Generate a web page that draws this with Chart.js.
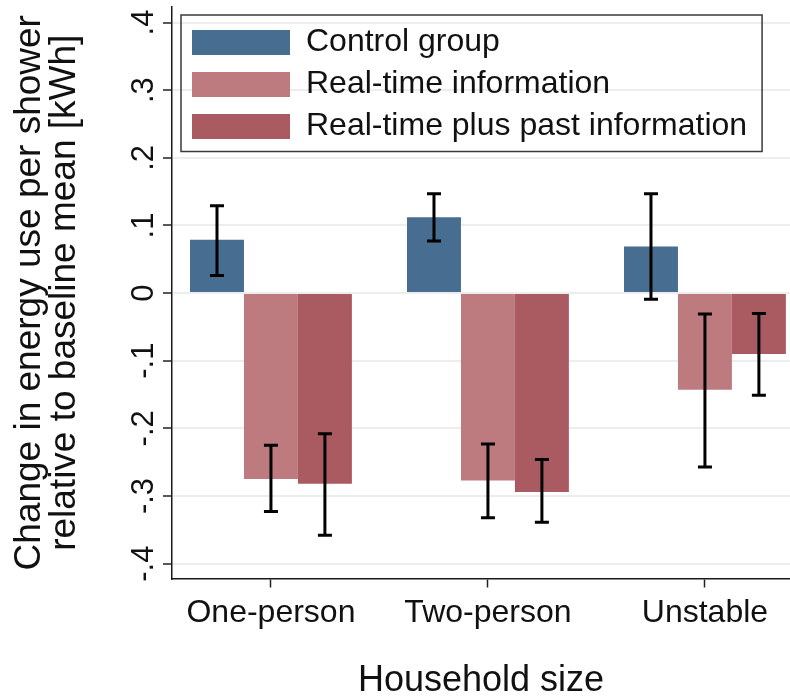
<!DOCTYPE html>
<html>
<head>
<meta charset="utf-8">
<script src="https://cdn.jsdelivr.net/npm/chart.js@4.4.1/dist/chart.umd.min.js"></script>
<style>
  html, body { margin: 0; padding: 0; background: #ffffff; }
  #wrap { width: 790px; height: 700px; }
</style>
</head>
<body>
<div id="wrap"><canvas id="c" width="790" height="700"></canvas></div>
<script>
// ---- data ----
const categories = ['One-person', 'Two-person', 'Unstable'];
const seriesNames = ['Control group', 'Real-time information', 'Real-time plus past information'];

const controlGroup   = [0.079, 0.112, 0.069];
const realTime       = [-0.275, -0.277, -0.143];
const realTimePast   = [-0.282, -0.294, -0.090];

const controlLow     = [0.026, 0.077, -0.009];
const controlHigh    = [0.129, 0.147, 0.147];
const realTimeLow    = [-0.323, -0.332, -0.257];
const realTimeHigh   = [-0.225, -0.223, -0.031];
const realTimePastLow  = [-0.358, -0.339, -0.151];
const realTimePastHigh = [-0.208, -0.246, -0.030];

const yTickValues = [-0.4, -0.3, -0.2, -0.1, 0, 0.1, 0.2, 0.3, 0.4];
const yTickLabels = ['-.4', '-.3', '-.2', '-.1', '0', '.1', '.2', '.3', '.4'];

// ---- styles ----
const FONT = "'Liberation Sans', Arial, sans-serif";
const colors = ['#476d91', '#bd7b80', '#aa5b62'];
const seriesValues = [controlGroup, realTime, realTimePast];
const seriesLow = [controlLow, realTimeLow, realTimePastLow];
const seriesHigh = [controlHigh, realTimeHigh, realTimePastHigh];

const datasets = seriesNames.map((name, s) => ({
  label: name,
  data: seriesValues[s].map((v, i) => ({ x: i + 1, y: v })),
  backgroundColor: colors[s],
  borderWidth: 0,
  categoryPercentage: 0.746,
  barPercentage: 1.0
}));

const errorBars = {
  id: 'errorBars',
  afterDatasetsDraw(chart) {
    const ctx = chart.ctx;
    const yScale = chart.scales.y;
    ctx.save();
    ctx.strokeStyle = '#000000';
    ctx.lineWidth = 3;
    ctx.lineCap = 'butt';
    chart.data.datasets.forEach((ds, s) => {
      const meta = chart.getDatasetMeta(s);
      meta.data.forEach((bar, j) => {
        const x = bar.x;
        const yl = yScale.getPixelForValue(seriesLow[s][j]);
        const yh = yScale.getPixelForValue(seriesHigh[s][j]);
        const cap = 7;
        ctx.beginPath();
        ctx.moveTo(x, yl); ctx.lineTo(x, yh);
        ctx.moveTo(x - cap, yl); ctx.lineTo(x + cap, yl);
        ctx.moveTo(x - cap, yh); ctx.lineTo(x + cap, yh);
        ctx.stroke();
      });
    });
    ctx.restore();
  }
};

const legendPlace = {
  id: 'legendPlace',
  afterLayout(chart) {
    const lg = chart.legend;
    const ca = chart.chartArea;
    if (!lg) return;
    const w = lg.width;
    lg.left = ca.left + 10;
    lg.top = ca.top + 9.5;
    lg.right = lg.left + w;
    lg.bottom = ca.bottom;
  },
  afterDraw(chart) {
    const lg = chart.legend;
    if (!lg || !lg.legendItems) return;
    const ctx = chart.ctx;
    const lo = chart.options.plugins.legend.labels;
    const fs = lo.font.size;
    ctx.save();
    ctx.font = fs + 'px ' + FONT;
    let maxW = 0;
    lg.legendItems.forEach(it => { maxW = Math.max(maxW, ctx.measureText(it.text).width); });
    const n = lg.legendItems.length;
    const x0 = lg.left - 1;
    const y0 = lg.top - 1.5;
    const x1 = lg.left + lo.padding + lo.boxWidth + fs / 2 + maxW + 15;
    const y1 = lg.top + lo.padding + n * (fs + lo.padding) - lo.padding + 9;
    ctx.strokeStyle = '#3a3a3a';
    ctx.lineWidth = 1.5;
    ctx.strokeRect(x0, y0, x1 - x0, y1 - y0);
    ctx.restore();
  }
};

new Chart(document.getElementById('c'), {
  type: 'bar',
  data: { datasets },
  options: {
    responsive: false,
    animation: false,
    devicePixelRatio: 1,
    layout: { padding: { top: 7, right: 0, bottom: 0, left: 0 } },
    plugins: {
      legend: {
        display: true,
        position: 'chartArea',
        align: 'start',
        labels: {
          boxWidth: 98,
          boxHeight: 25,
          padding: 10,
          color: '#111111',
          font: { family: FONT, size: 32 }
        }
      },
      tooltip: { enabled: false }
    },
    scales: {
      x: {
        type: 'linear',
        min: 0.544,
        max: 3.392,
        offset: false,
        afterBuildTicks(axis) {
          axis.ticks = categories.map((c, i) => ({ value: i + 1 }));
        },
        afterFit(scale) { scale.height = 121.5; scale.paddingLeft = 0; scale.paddingRight = 0; },
        grid: {
          offset: false,
          drawOnChartArea: false,
          drawTicks: true,
          tickLength: 9,
          tickColor: '#222222',
          tickWidth: 1.5
        },
        border: { display: true, color: '#1a1a1a', width: 1.5 },
        ticks: {
          padding: 6,
          color: '#111111',
          font: { family: FONT, size: 32 },
          maxRotation: 0,
          minRotation: 0,
          autoSkip: false,
          callback: (v) => categories[Math.round(v) - 1] || ''
        },
        title: {
          display: true,
          text: 'Household size',
          color: '#111111',
          font: { family: FONT, size: 36, lineHeight: 1.05 },
          padding: { top: 0, bottom: 0 }
        }
      },
      y: {
        min: -0.422,
        max: 0.423,
        afterBuildTicks(axis) {
          axis.ticks = yTickValues.map(v => ({ value: v }));
        },
        afterFit(scale) { scale.width = 172; scale.paddingTop = 0; scale.paddingBottom = 0; },
        grid: {
          display: true,
          drawOnChartArea: true,
          color: '#ededed',
          lineWidth: 2,
          drawTicks: true,
          tickLength: 9,
          tickColor: '#222222',
          tickWidth: 1.5
        },
        border: { display: true, color: '#1a1a1a', width: 1.5 },
        ticks: {
          minRotation: 90,
          maxRotation: 90,
          crossAlign: 'center',
          padding: 0,
          color: '#111111',
          font: { family: FONT, size: 31 },
          callback: (v) => {
            const k = yTickValues.findIndex(t => Math.abs(t - v) < 1e-9);
            return k >= 0 ? yTickLabels[k] : '';
          }
        },
        title: {
          display: true,
          text: ['Change in energy use per shower', 'relative to baseline mean [kWh]'],
          color: '#111111',
          font: { family: FONT, size: 37, lineHeight: 0.93 },
          padding: { top: 13, bottom: 0 }
        }
      }
    }
  },
  plugins: [errorBars, legendPlace]
});
</script>
</body>
</html>
